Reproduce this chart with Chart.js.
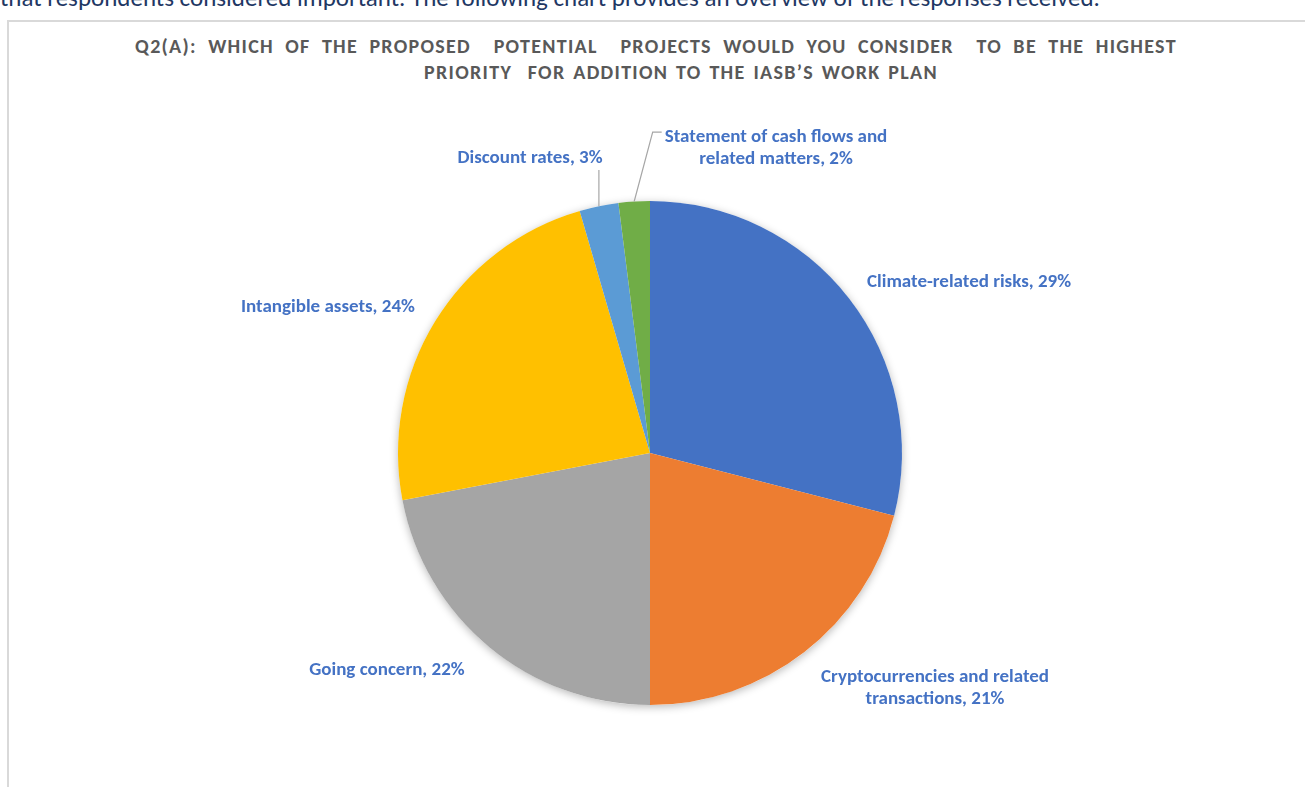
<!DOCTYPE html>
<html>
<head>
<meta charset="utf-8">
<script src="https://cdn.jsdelivr.net/npm/chart.js@4.4.1/dist/chart.umd.min.js"></script>
<style>
  html, body { margin: 0; padding: 0; background: #fff; width: 1305px; height: 787px; overflow: hidden; }
  #toptext { position: absolute; left: 0; top: -15px; font-family: Carlito, Calibri, Lato, sans-serif; font-size: 25px; line-height: 25px; color: #1F3864; white-space: nowrap; }
  #frame { position: absolute; left: 7px; top: 20px; width: 1400px; height: 900px; border-left: 2px solid #D9D9D9; border-top: 2px solid #D9D9D9; box-sizing: border-box; }
  .tl { position: absolute; left: 0; width: 1312px; text-align: center; font-family: Carlito, Calibri, Lato, sans-serif; font-weight: bold; font-size: 20px; line-height: 26px; color: #595959; white-space: pre; }
  #t1 { top: 33px; letter-spacing: 1.3px; word-spacing: 5.5px; }
  #t2 { top: 59px; left: 25px; letter-spacing: 1.3px; word-spacing: 2px; }
  #wrap { position: absolute; left: 0; top: 0; width: 1305px; height: 787px; }
</style>
</head>
<body>
<div id="toptext">that respondents considered important. The following chart provides an overview of the responses received.</div>
<div id="frame"></div>
<div class="tl" id="t1">Q2(A): WHICH OF THE PROPOSED  POTENTIAL  PROJECTS WOULD YOU CONSIDER  TO BE THE HIGHEST</div>
<div class="tl" id="t2">PRIORITY  FOR ADDITION TO THE IASB’S WORK PLAN</div>
<div id="wrap"><canvas id="c" width="1305" height="787"></canvas></div>
<script>
// ---- data ----
const categories = [
  ["Climate-related risks"],
  ["Cryptocurrencies and related", "transactions"],
  ["Going concern"],
  ["Intangible assets"],
  ["Discount rates"],
  ["Statement of cash flows and", "related matters"]
];
const shares = [29, 21, 22, 23.5, 2.5, 2];
const sliceColors = ["#4472C4", "#ED7D31", "#A5A5A5", "#FFC000", "#5B9BD5", "#70AD47"];

// label placement relative to pie center, in units of radius (layout only)
const labelOffsets = [
  [1.266, -0.679], [1.131, 0.933], [-1.044, 0.861], [-1.278, -0.579], [-0.476, -1.171], [0.5, -1.210]
];
const leaderLines = [false, false, false, false, "vertical", "elbow"];

const total = shares.reduce((a, b) => a + b, 0);
const labelFont = "bold 19px Carlito, Calibri, Lato, sans-serif";

const shadowPlugin = {
  id: 'shadow',
  beforeDatasetsDraw(chart) {
    const arc = chart.getDatasetMeta(0).data[0];
    if (!arc) return;
    const ctx = chart.ctx;
    ctx.save();
    ctx.shadowColor = 'rgba(0,0,0,0.28)';
    ctx.shadowBlur = 8;
    ctx.shadowOffsetX = 0;
    ctx.shadowOffsetY = 2;
    ctx.fillStyle = '#ffffff';
    ctx.beginPath();
    ctx.arc(arc.x, arc.y, arc.outerRadius, 0, Math.PI * 2);
    ctx.fill();
    ctx.restore();
  }
};

const labelPlugin = {
  id: 'pieLabels',
  afterDatasetsDraw(chart) {
    const ctx = chart.ctx;
    const meta = chart.getDatasetMeta(0);
    ctx.save();
    ctx.font = labelFont;
    ctx.fillStyle = "#4472C4";
    ctx.textAlign = "center";
    ctx.textBaseline = "middle";
    const lh = 22;
    meta.data.forEach((arc, i) => {
      const r = arc.outerRadius;
      const cx = arc.x, cy = arc.y;
      const lx = cx + labelOffsets[i][0] * r;
      const ly = cy + labelOffsets[i][1] * r;
      const pct = Math.round(shares[i] / total * 100);
      const lines = categories[i].slice();
      lines[lines.length - 1] = lines[lines.length - 1] + ", " + pct + "%";
      const y0 = ly - (lines.length - 1) * lh / 2;
      lines.forEach((t, k) => ctx.fillText(t, lx, y0 + k * lh));

      const mid = (arc.startAngle + arc.endAngle) / 2;
      const ex = cx + Math.cos(mid) * r;
      const ey = cy + Math.sin(mid) * r;
      if (leaderLines[i]) {
        ctx.save();
        ctx.strokeStyle = "#A6A6A6";
        ctx.lineWidth = 1.2;
        ctx.beginPath();
        if (leaderLines[i] === "vertical") {
          ctx.moveTo(ex, ey);
          ctx.lineTo(ex, ly + 12);
        } else {
          const w = Math.max(...lines.map(t => ctx.measureText(t).width));
          const left = lx - w / 2 - 3;
          const yy = y0 - 5;
          ctx.moveTo(ex, ey);
          ctx.lineTo(left - 9, yy);
          ctx.lineTo(left, yy);
        }
        ctx.stroke();
        ctx.restore();
      }
    });
    ctx.restore();
  }
};

new Chart(document.getElementById('c'), {
  type: 'pie',
  data: {
    labels: categories.map(c => c.join(' ')),
    datasets: [{
      data: shares,
      backgroundColor: sliceColors,
      borderWidth: 0
    }]
  },
  options: {
    responsive: false,
    animation: false,
    layout: { padding: { top: 201, bottom: 82, left: 300, right: 305 } },
    plugins: {
      legend: { display: false },
      tooltip: { enabled: false },
      title: { display: false }
    }
  },
  plugins: [shadowPlugin, labelPlugin]
});
</script>
</body>
</html>
